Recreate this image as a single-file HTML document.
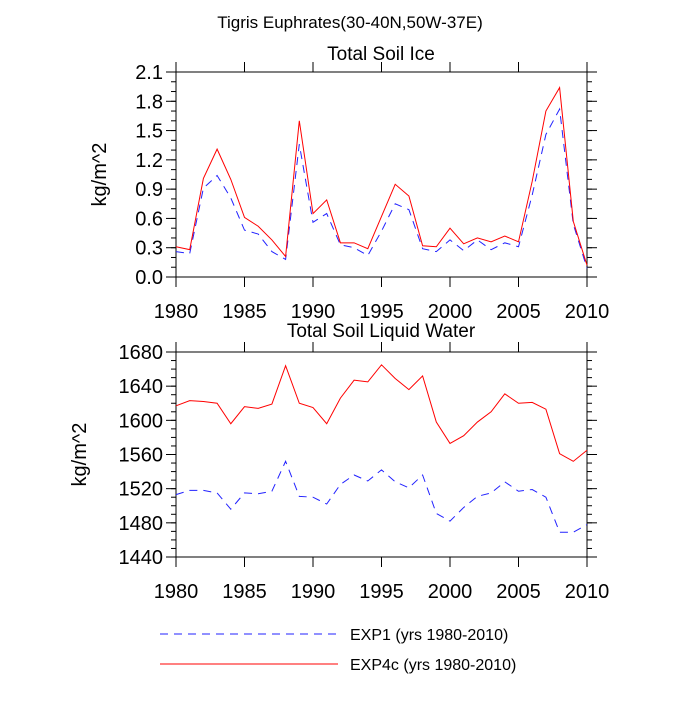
<!DOCTYPE html>
<html><head><meta charset="utf-8"><style>
body{margin:0;background:#fff;}
svg text{font-family:"Liberation Sans",sans-serif;fill:#000;}
</style></head><body>
<svg id="c" width="700" height="700" xmlns="http://www.w3.org/2000/svg">
<text x="350" y="28" font-size="17" text-anchor="middle">Tigris Euphrates(30-40N,50W-37E)</text>
<g id="g1"></g><g id="g2"></g>
<line x1="160" y1="634" x2="338" y2="634" stroke="#2222ff" stroke-width="1" stroke-dasharray="8,6"/>
<text x="350" y="640" font-size="16">EXP1 (yrs 1980-2010)</text>
<line x1="160" y1="664" x2="338" y2="664" stroke="#ff0000" stroke-width="1"/>
<text x="350" y="670" font-size="16">EXP4c (yrs 1980-2010)</text>
</svg>
<script>
const years = [];
for (let y = 1980; y <= 2010; y++) years.push(y);
const xTicks = [1980,1985,1990,1995,2000,2005,2010];
const iceExp4c = [0.31,0.28,1.01,1.31,1.0,0.61,0.52,0.38,0.21,1.60,0.65,0.79,0.35,0.35,0.29,0.62,0.95,0.83,0.32,0.31,0.50,0.34,0.40,0.36,0.42,0.36,0.98,1.70,1.94,0.57,0.12];
const iceExp1 = [0.26,0.24,0.91,1.04,0.81,0.48,0.44,0.26,0.18,1.36,0.56,0.65,0.33,0.30,0.22,0.47,0.75,0.69,0.29,0.26,0.38,0.27,0.38,0.28,0.35,0.31,0.84,1.46,1.72,0.54,0.09];
const iceTicks = [0.0,0.3,0.6,0.9,1.2,1.5,1.8,2.1];
const iceTickLabels = ["0.0","0.3","0.6","0.9","1.2","1.5","1.8","2.1"];
const liqExp4c = [1617,1623,1622,1620,1596,1616,1614,1619,1664,1620,1615,1596,1626,1647,1645,1665,1649,1636,1652,1598,1573,1582,1598,1610,1631,1620,1621,1613,1561,1552,1565];
const liqExp1 = [1513,1518,1518,1515,1496,1515,1514,1517,1552,1511,1510,1502,1525,1536,1529,1542,1528,1521,1536,1491,1482,1498,1511,1515,1528,1517,1519,1510,1469,1469,1478];
const liqTicks = [1440,1480,1520,1560,1600,1640,1680];
const liqTickLabels = ["1440","1480","1520","1560","1600","1640","1680"];
const NS = "http://www.w3.org/2000/svg";
function mk(parent, tag, attrs){const e=document.createElementNS(NS,tag);for(const k in attrs)e.setAttribute(k,attrs[k]);parent.appendChild(e);return e;}
function panel(gid, name, box, ymin, ymax, ticks, labels, minorStep, s1, s2, title, ytx, titleY){
  const g=document.getElementById(gid);
  const X=v=>box.x0+(v-1980)/30*(box.x1-box.x0);
  const Y=v=>box.y1-(v-ymin)/(ymax-ymin)*(box.y1-box.y0);
  const fr=mk(g,'rect',{x:box.x0,y:box.y0,width:box.x1-box.x0,height:box.y1-box.y0,fill:'none',stroke:'#000','stroke-width':1});
  
  
  for(let v=ymin; v<=ymax+1e-9; v+=minorStep){
    const y=Y(v);
    mk(g,'line',{x1:box.x0-5,x2:box.x0,y1:y,y2:y,stroke:'#000'});
    mk(g,'line',{x1:box.x1,x2:box.x1+5,y1:y,y2:y,stroke:'#000'});
  }
  ticks.forEach((v,i)=>{
    const y=Y(v);
    mk(g,'line',{x1:box.x0-10,x2:box.x0,y1:y,y2:y,stroke:'#000'});
    mk(g,'line',{x1:box.x1,x2:box.x1+10,y1:y,y2:y,stroke:'#000'});
    const t=mk(g,'text',{x:box.x0-13,y:y+7,'font-size':20,'text-anchor':'end'});
    t.textContent=labels[i];
    
    
  });
  xTicks.forEach(v=>{
    const x=X(v);
    mk(g,'line',{x1:x,x2:x,y1:box.y0-10,y2:box.y0,stroke:'#000'});
    mk(g,'line',{x1:x,x2:x,y1:box.y1,y2:box.y1+10,stroke:'#000'});
    const t=mk(g,'text',{x:x,y:box.y1+41,'font-size':20,'text-anchor':'middle'});
    t.textContent=v;
    
    
  });
  const tt=mk(g,'text',{x:381,y:titleY,'font-size':19,'text-anchor':'middle'});
  tt.textContent=title;
  
  
  const cy=(box.y0+box.y1)/2;
  const yt=mk(g,'text',{x:ytx,y:cy,'font-size':20,'text-anchor':'middle',transform:`rotate(-90 ${ytx} ${cy})`});
  yt.textContent='kg/m^2';
  
  
  const p1=mk(g,'polyline',{points:s1.map((v,i)=>X(years[i])+','+Y(v)).join(' '),fill:'none',stroke:'#2222ff','stroke-width':1,'stroke-dasharray':'8,6'});
  
  
  const p2=mk(g,'polyline',{points:s2.map((v,i)=>X(years[i])+','+Y(v)).join(' '),fill:'none',stroke:'#ff0000','stroke-width':1});
  
  
}
panel('g1','ice-panel',{x0:176,x1:587,y0:72,y1:277},0,2.1,iceTicks,iceTickLabels,0.1,iceExp1,iceExp4c,'Total Soil Ice',106,60);
panel('g2','liquid-panel',{x0:176,x1:587,y0:352,y1:557},1440,1680,liqTicks,liqTickLabels,10,liqExp1,liqExp4c,'Total Soil Liquid Water',86,337);
</script>
</body></html>
